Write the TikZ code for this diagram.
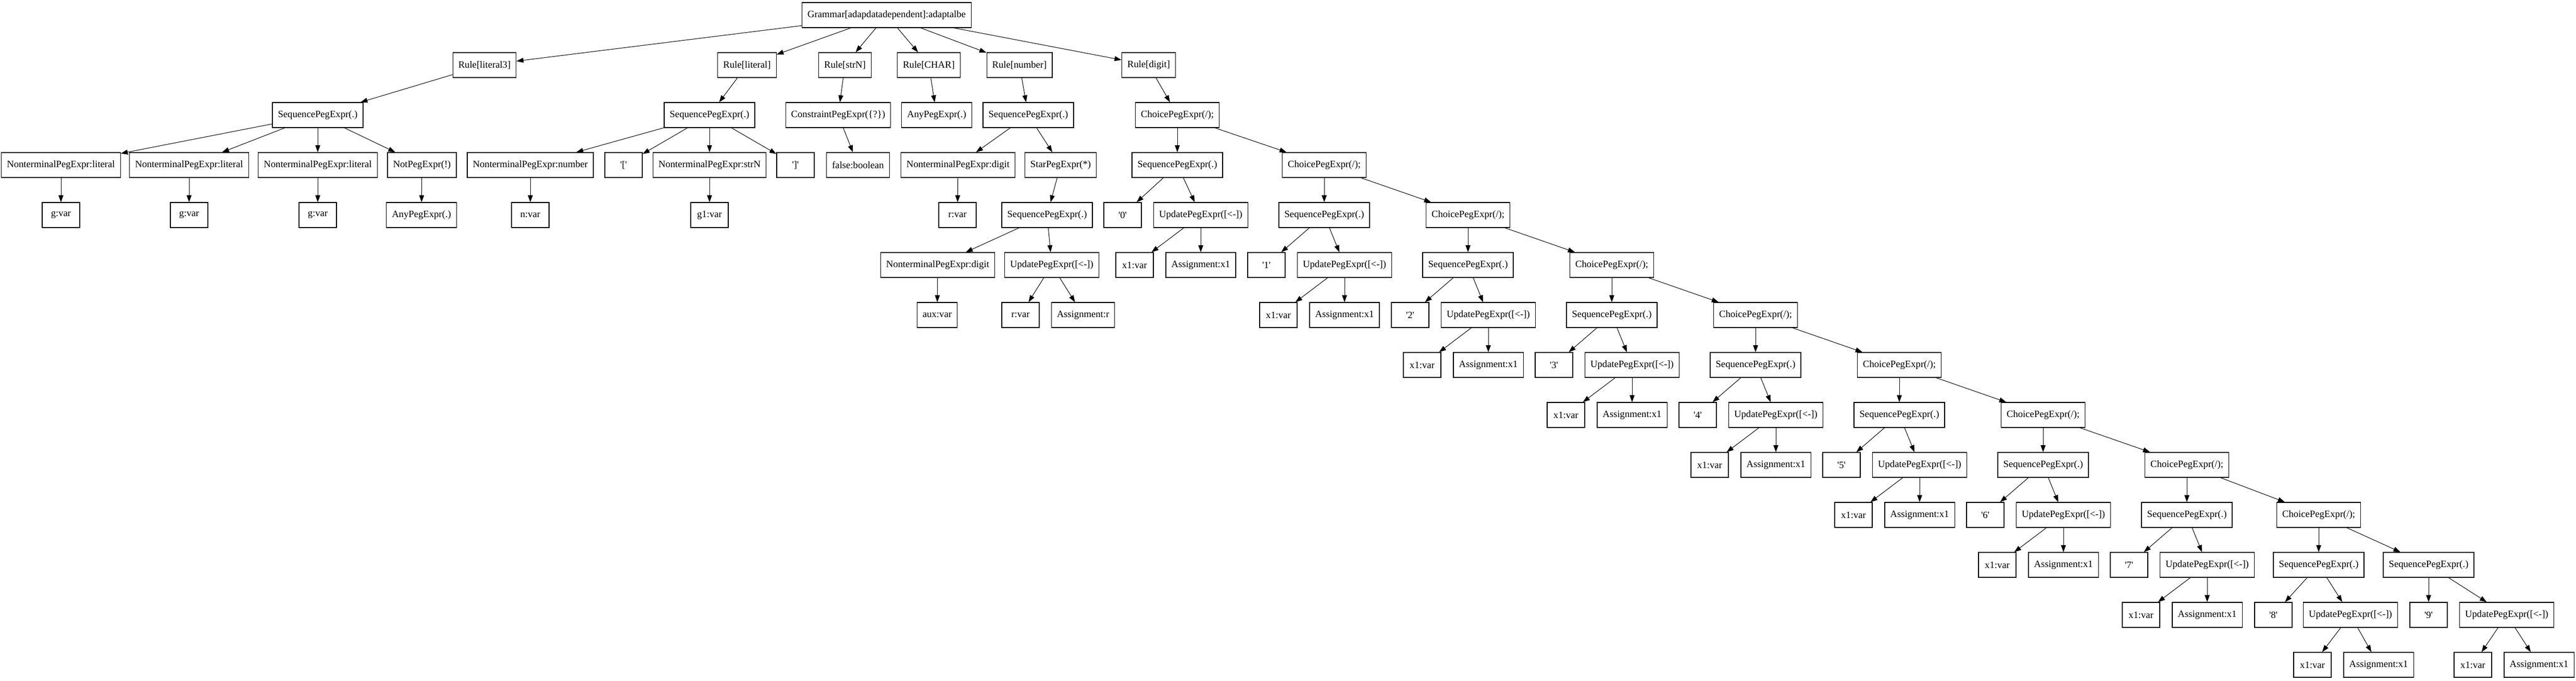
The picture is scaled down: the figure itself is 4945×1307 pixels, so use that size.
\documentclass[tikz,border=0pt]{standalone}
\usepackage{fontspec}
\setmainfont{Liberation Serif}
\usetikzlibrary{arrows.meta}

\tikzset{
  pegnode/.style={draw, rectangle, line width=0.6pt, font=\fontsize{9.33}{11}\selectfont,
    minimum width=36pt, minimum height=24pt, inner xsep=5.28pt, inner ysep=0pt},
  link/.style={-{Triangle[length=6.7pt,width=4.7pt]}, line width=0.5pt}
}
\newcommand{\lit}[1]{\textquotesingle#1\textquotesingle}

\begin{document}
\begin{tikzpicture}[x=0.5pt,y=-0.5pt]
\fill[white] (0,0) rectangle (4945,1307);

% Grammar and its rules
\node[pegnode] (gram) at (1702,29) {Grammar[adapdatadependent]:adaptalbe};
\node[pegnode] (rlit3) at (930,125) {Rule[literal3]};
\node[pegnode] (rlit) at (1434,125) {Rule[literal]};
\node[pegnode] (rstrn) at (1622,125) {Rule[strN]};
\node[pegnode] (rchar) at (1783,125) {Rule[CHAR]};
\node[pegnode] (rnum) at (1957,125) {Rule[number]};
\node[pegnode] (rdig) at (2205,125) {Rule[digit]};
\foreach \r in {rlit3,rlit,rstrn,rchar,rnum,rdig} \draw[link] (gram) -- (\r);

% Rule[literal3]
\node[pegnode] (seqa) at (610,221) {SequencePegExpr(.)};
\node[pegnode] (nta) at (117,317) {NonterminalPegExpr:literal};
\node[pegnode] (ntb) at (363,317) {NonterminalPegExpr:literal};
\node[pegnode] (ntc) at (610,317) {NonterminalPegExpr:literal};
\node[pegnode] (notp) at (810,317) {NotPegExpr(!)};
\node[pegnode] (gva) at (117,413) {g:var};
\node[pegnode] (gvb) at (363,413) {g:var};
\node[pegnode] (gvc) at (610,413) {g:var};
\node[pegnode] (anyn) at (809,413) {AnyPegExpr(.)};
\draw[link] (rlit3) -- (seqa);
\draw[link] (seqa) -- (nta);
\draw[link] (seqa) -- (ntb);
\draw[link] (seqa) -- (ntc);
\draw[link] (seqa) -- (notp);
\draw[link] (nta) -- (gva);
\draw[link] (ntb) -- (gvb);
\draw[link] (ntc) -- (gvc);
\draw[link] (notp) -- (anyn);

% Rule[literal]
\node[pegnode] (seqb) at (1362,221) {SequencePegExpr(.)};
\node[pegnode] (ntnum) at (1018,317) {NonterminalPegExpr:number};
\node[pegnode] (lbr) at (1197,317) {\lit{[}};
\node[pegnode] (ntstrn) at (1362,317) {NonterminalPegExpr:strN};
\node[pegnode] (rbr) at (1527,317) {\lit{]}};
\node[pegnode] (nvar) at (1018,413) {n:var};
\node[pegnode] (gonevar) at (1362,413) {g1:var};
\draw[link] (rlit) -- (seqb);
\draw[link] (seqb) -- (ntnum);
\draw[link] (seqb) -- (lbr);
\draw[link] (seqb) -- (ntstrn);
\draw[link] (seqb) -- (rbr);
\draw[link] (ntnum) -- (nvar);
\draw[link] (ntstrn) -- (gonevar);

% Rule[strN] and Rule[CHAR]
\node[pegnode] (cons) at (1609,221) {ConstraintPegExpr(\{?\})};
\node[pegnode] (falseb) at (1647,317) {false:boolean};
\node[pegnode] (anyc) at (1798,221) {AnyPegExpr(.)};
\draw[link] (rstrn) -- (cons);
\draw[link] (cons) -- (falseb);
\draw[link] (rchar) -- (anyc);

% Rule[number]
\node[pegnode] (seqn) at (1974,221) {SequencePegExpr(.)};
\node[pegnode] (ntdig) at (1839,317) {NonterminalPegExpr:digit};
\node[pegnode] (star) at (2036,317) {StarPegExpr(*)};
\node[pegnode] (rvar) at (1838,413) {r:var};
\node[pegnode] (seqs) at (2010,413) {SequencePegExpr(.)};
\node[pegnode] (ntaux) at (1800,509) {NonterminalPegExpr:digit};
\node[pegnode] (updr) at (2019,509) {UpdatePegExpr([<-])};
\node[pegnode] (auxvar) at (1799,605) {aux:var};
\node[pegnode] (rvarb) at (1959,605) {r:var};
\node[pegnode] (asgr) at (2079,605) {Assignment:r};
\draw[link] (rnum) -- (seqn);
\draw[link] (seqn) -- (ntdig);
\draw[link] (seqn) -- (star);
\draw[link] (ntdig) -- (rvar);
\draw[link] (star) -- (seqs);
\draw[link] (seqs) -- (ntaux);
\draw[link] (seqs) -- (updr);
\draw[link] (ntaux) -- (auxvar);
\draw[link] (updr) -- (rvarb);
\draw[link] (updr) -- (asgr);

% Rule[digit]: choice chain
\node[pegnode] (cho0) at (2260,221) {ChoicePegExpr(/);};
\node[pegnode] (seq0) at (2260,317) {SequencePegExpr(.)};
\node[pegnode] (q0) at (2155,413) {\lit{0}};
\node[pegnode] (upd0) at (2305,413) {UpdatePegExpr([<-])};
\node[pegnode] (xv0) at (2178,509) {x1:var};
\node[pegnode] (asg0) at (2305,509) {Assignment:x1};
\draw[link] (rdig) -- (cho0);
\draw[link] (cho0) -- (seq0);
\draw[link] (seq0) -- (q0);
\draw[link] (seq0) -- (upd0);
\draw[link] (upd0) -- (xv0);
\draw[link] (upd0) -- (asg0);
\foreach \k in {1,...,7} {
  \pgfmathsetmacro\cx{2542+276*(\k-1)}
  \pgfmathtruncatemacro\prev{\k-1}
  \node[pegnode] (cho\k) at (\cx,29+96*\k+192) {ChoicePegExpr(/);};
  \node[pegnode] (seq\k) at (\cx,29+96*\k+288) {SequencePegExpr(.)};
  \node[pegnode] (q\k) at (\cx-111,29+96*\k+384) {\lit{\k}};
  \node[pegnode] (upd\k) at (\cx+39,29+96*\k+384) {UpdatePegExpr([<-])};
  \node[pegnode] (xv\k) at (\cx-88,29+96*\k+480) {x1:var};
  \node[pegnode] (asg\k) at (\cx+39,29+96*\k+480) {Assignment:x1};
  \draw[link] (cho\prev) -- (cho\k);
  \draw[link] (cho\k) -- (seq\k);
  \draw[link] (seq\k) -- (q\k);
  \draw[link] (seq\k) -- (upd\k);
  \draw[link] (upd\k) -- (xv\k);
  \draw[link] (upd\k) -- (asg\k);
}

% last choice: '8' and '9'
\node[pegnode] (cho8) at (4451,989) {ChoicePegExpr(/);};
\node[pegnode] (seq8) at (4451,1085) {SequencePegExpr(.)};
\node[pegnode] (q8) at (4364,1181) {\lit{8}};
\node[pegnode] (upd8) at (4512,1181) {UpdatePegExpr([<-])};
\node[pegnode] (xv8) at (4439,1277) {x1:var};
\node[pegnode] (asg8) at (4566,1277) {Assignment:x1};
\node[pegnode] (seq9) at (4662,1085) {SequencePegExpr(.)};
\node[pegnode] (q9) at (4662,1181) {\lit{9}};
\node[pegnode] (upd9) at (4812,1181) {UpdatePegExpr([<-])};
\node[pegnode] (xv9) at (4747,1277) {x1:var};
\node[pegnode] (asg9) at (4874,1277) {Assignment:x1};
\draw[link] (cho7) -- (cho8);
\draw[link] (cho8) -- (seq8);
\draw[link] (cho8) -- (seq9);
\draw[link] (seq8) -- (q8);
\draw[link] (seq8) -- (upd8);
\draw[link] (upd8) -- (xv8);
\draw[link] (upd8) -- (asg8);
\draw[link] (seq9) -- (q9);
\draw[link] (seq9) -- (upd9);
\draw[link] (upd9) -- (xv9);
\draw[link] (upd9) -- (asg9);
\end{tikzpicture}
\end{document}
